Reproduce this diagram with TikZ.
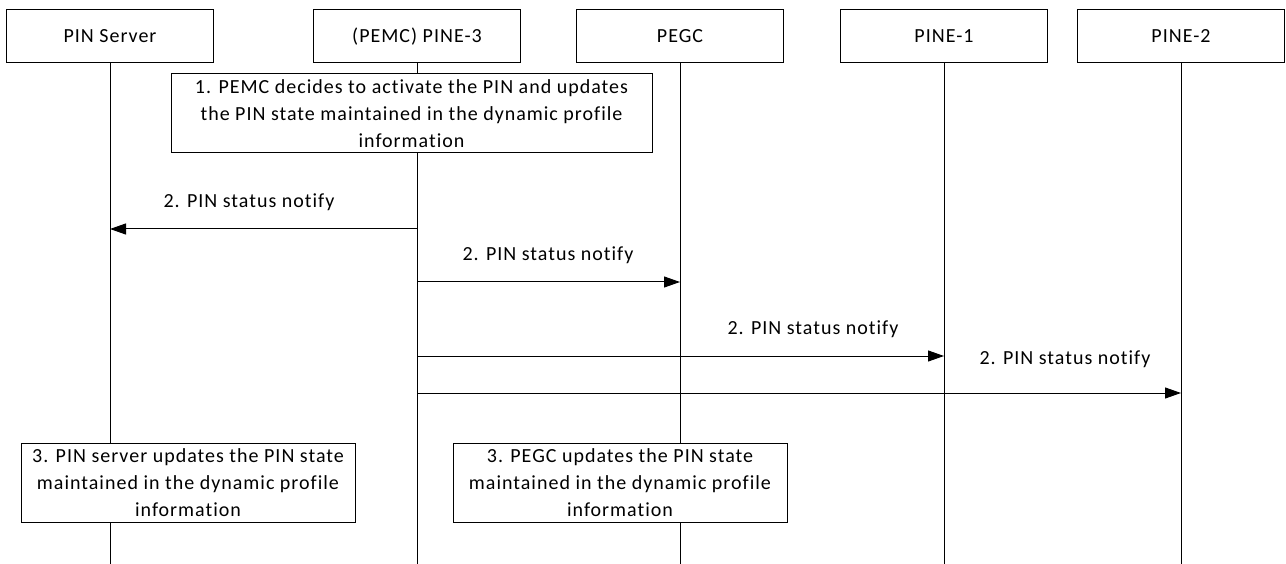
\documentclass[tikz,border=0pt]{standalone}
\usepackage{fontspec}
\setmainfont{Carlito}[LetterSpace=5,Ligatures=NoCommon]
\usetikzlibrary{arrows.meta}
\begin{document}
\begin{tikzpicture}[x=1pt,y=-1pt,
  every node/.style={font=\fontsize{20}{27}\selectfont},
  hdr/.style={draw,line width=1pt,fill=white,minimum width=207pt,minimum height=53pt,inner sep=0pt},
  stepbox/.style={draw,line width=1pt,fill=white,minimum height=79pt,inner sep=0pt,align=center},
  life/.style={line width=1pt},
  msg/.style={line width=1pt,-{Triangle[length=16pt,width=11pt]}},
  lbl/.style={inner sep=0pt}]
\useasboundingbox (0,0) rectangle (1286,564);
% headers
\node[hdr] (srv) at (110,36.5) {PIN Server};
\node[hdr] (pemc) at (417,36.5) {(PEMC) PINE-3};
\node[hdr] (pegc) at (680,36.5) {PEGC};
\node[hdr] (p1) at (944,36.5) {PINE-1};
\node[hdr] (p2) at (1181,36.5) {PINE-2};
% lifeline ends
\coordinate (srvE) at (110,564);
\coordinate (pemcE) at (417,564);
\coordinate (pegcE) at (680,564);
\coordinate (p1E) at (944,564);
\coordinate (p2E) at (1181,564);
\draw[life] (srv.south) -- (srvE);
\draw[life] (pemc.south) -- (pemcE);
\draw[life] (pegc.south) -- (pegcE);
\draw[life] (p1.south) -- (p1E);
\draw[life] (p2.south) -- (p2E);
% step 1
\node[stepbox,minimum width=481pt] (s1) at (411.5,113.5)
  {1. PEMC decides to activate the PIN and updates\\the PIN state maintained in the dynamic profile\\information};
% messages
\coordinate (m1a) at (417,229);
\coordinate (m1b) at (110,229);
\coordinate (m2a) at (417,282);
\coordinate (m2b) at (680,282);
\coordinate (m3a) at (417,356);
\coordinate (m3b) at (944,356);
\coordinate (m4a) at (417,393);
\coordinate (m4b) at (1181,393);
\draw[msg] (m1a) -- (m1b);
\draw[msg] (m2a) -- (m2b);
\draw[msg] (m3a) -- (m3b);
\draw[msg] (m4a) -- (m4b);
\node[lbl] (l1) at (249,202) {2. PIN status notify};
\node[lbl] (l2) at (548,255) {2. PIN status notify};
\node[lbl] (l3) at (813,329) {2. PIN status notify};
\node[lbl] (l4) at (1065,359) {2. PIN status notify};
% step 3
\node[stepbox,minimum width=334pt] (s3a) at (188,482.5)
  {3. PIN server updates the PIN state\\maintained in the dynamic profile\\information};
\node[stepbox,minimum width=334pt] (s3b) at (620,482.5)
  {3. PEGC updates the PIN state\\maintained in the dynamic profile\\information};
\end{tikzpicture}
\end{document}
